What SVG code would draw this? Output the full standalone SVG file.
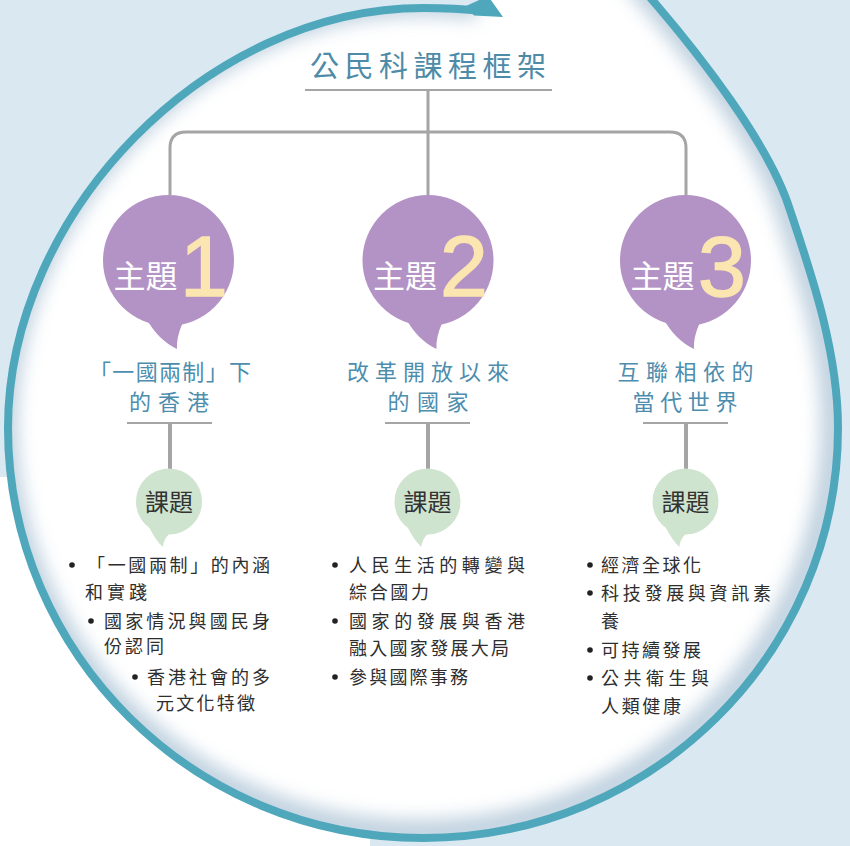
<svg xmlns="http://www.w3.org/2000/svg" width="850" height="846" viewBox="0 0 850 846">
<style>
.cjk{font-family:"Noto Sans CJK TC","Noto Sans CJK SC",sans-serif}
.title{font-size:29px;fill:#4e8ba8}
.theme{font-size:22px;fill:#4d8dae}
.zt{font-size:32px;fill:#ffffff}
.num{font-family:"Liberation Sans",Arial,sans-serif;font-size:86px;fill:#fbe5b0;stroke:#fbe5b0;stroke-width:1.5}
.kt{font-size:24px;fill:#333333}
.li{font-size:18px;fill:#2e2e2e}
.purple{fill:#b393c5}
.green{fill:#cfe4ce}
.conn{stroke:#a5a5a5;fill:none;stroke-linecap:butt}
.dot{fill:#222222}
</style>
<defs>
<clipPath id="inside">
<path d="M630,-26 L648,-5 C700,55 770,145 790,210 C810,270 838,350 838,428 C838,654 652,838 423,838 C194,838 8,654 8,428 C8,212 208,8 423,8 C445,8 465,9 482,11 L482,-30 L630,-30 Z"/>
</clipPath>
<filter id="blur" x="-15%" y="-15%" width="130%" height="130%"><feGaussianBlur stdDeviation="9"/></filter>
</defs>
<rect x="0" y="0" width="850" height="846" fill="#dae8f2"/>
<rect x="0" y="477" width="370" height="369" fill="#ffffff"/>
<g id="frame">
<path d="M630,-26 L648,-5 C700,55 770,145 790,210 C810,270 838,350 838,428 C838,654 652,838 423,838 C194,838 8,654 8,428 C8,212 208,8 423,8 C445,8 465,9 482,11 L482,-30 L630,-30 Z" fill="#ffffff"/>
<g clip-path="url(#inside)">
<path d="M630,-26 L648,-5 C700,55 770,145 790,210 C810,270 838,350 838,428 C838,654 652,838 423,838 C194,838 8,654 8,428 C8,212 208,8 423,8 C445,8 465,9 482,11" fill="none" stroke="#a9c1d4" stroke-width="26" opacity="0.75" filter="url(#blur)" transform="translate(-4,-5)"/>
</g>
<path d="M630,-26 L648,-5 C700,55 770,145 790,210 C810,270 838,350 838,428 C838,654 652,838 423,838 C194,838 8,654 8,428 C8,212 208,8 423,8 C445,8 465,9 482,11" fill="none" stroke="#4fa7bc" stroke-width="8" stroke-linejoin="round"/>
<path d="M466,6 L488,-4 L503,17 L474,15.5 Z" fill="#4fa7bc"/>
</g>
<g id="connectors">
<path class="conn" stroke-width="3" d="M428,90 V195"/>
<path class="conn" stroke-width="3" d="M170,195 V148 Q170,132 186,132 H670 Q686,132 686,148 V195"/>
<path class="conn" stroke-width="4" d="M170,423 V470 M428,423 V470 M686,423 V470"/>
</g>
<g id="title">
<text class="cjk title" x="428" y="77" text-anchor="middle" textLength="236" lengthAdjust="spacing">公民科課程框架</text>
<line class="conn" stroke-width="2" x1="305" y1="90" x2="552" y2="90"/>
</g>
<g id="theme1">
<circle class="purple" cx="168.5" cy="260.5" r="65.5"/>
<path class="purple" d="M146,318 Q158,340 177,349 Q176,338 183,322 Z"/>
<text class="cjk zt" x="113.5" y="288">主題</text>
<text class="num" x="180" y="296">1</text>
<text class="cjk theme" x="170" y="380" text-anchor="middle" textLength="162" lengthAdjust="spacing">「一國兩制」下</text>
<text class="cjk theme" x="169" y="410" text-anchor="middle" textLength="80" lengthAdjust="spacing">的香港</text>
<line class="conn" stroke-width="2" x1="127" y1="423" x2="212" y2="423"/>
</g>
<g id="theme2">
<circle class="purple" cx="428" cy="260.5" r="65.5"/>
<path class="purple" d="M405.5,318 Q417.5,340 436.5,349 Q435.5,338 442.5,322 Z"/>
<text class="cjk zt" x="373" y="288">主題</text>
<text class="num" x="440" y="296">2</text>
<text class="cjk theme" x="428" y="380" text-anchor="middle" textLength="162" lengthAdjust="spacing">改革開放以來</text>
<text class="cjk theme" x="428" y="410" text-anchor="middle" textLength="81" lengthAdjust="spacing">的國家</text>
<line class="conn" stroke-width="2" x1="385" y1="423" x2="470" y2="423"/>
</g>
<g id="theme3">
<circle class="purple" cx="685.5" cy="260.5" r="65.5"/>
<path class="purple" d="M663,318 Q675,340 694,349 Q693,338 700,322 Z"/>
<text class="cjk zt" x="630.5" y="288">主題</text>
<text class="num" x="698" y="296">3</text>
<text class="cjk theme" x="685.5" y="380" text-anchor="middle" textLength="136" lengthAdjust="spacing">互聯相依的</text>
<text class="cjk theme" x="685" y="410" text-anchor="middle" textLength="105" lengthAdjust="spacing">當代世界</text>
<line class="conn" stroke-width="2" x1="643" y1="423" x2="728" y2="423"/>
</g>
<g id="topic1">
<circle class="green" cx="169" cy="501.5" r="33"/>
<path class="green" d="M149,527 Q156,541 163,547 Q163,540 170,533 Z"/>
<text class="cjk kt" x="169" y="511" text-anchor="middle">課題</text>
<circle class="dot" cx="72" cy="565" r="2.8"/>
<text class="cjk li" x="87" y="572" textLength="183" lengthAdjust="spacing">「一國兩制」的內涵</text>
<text class="cjk li" x="85" y="599" textLength="62" lengthAdjust="spacing">和實踐</text>
<circle class="dot" cx="91" cy="621" r="2.8"/>
<text class="cjk li" x="104" y="628" textLength="166" lengthAdjust="spacing">國家情況與國民身</text>
<text class="cjk li" x="104" y="653" textLength="60" lengthAdjust="spacing">份認同</text>
<circle class="dot" cx="135" cy="677" r="2.8"/>
<text class="cjk li" x="147" y="684" textLength="123" lengthAdjust="spacing">香港社會的多</text>
<text class="cjk li" x="156" y="710" textLength="99" lengthAdjust="spacing">元文化特徵</text>
</g>
<g id="topic2">
<circle class="green" cx="427.5" cy="501.5" r="33"/>
<path class="green" d="M407.5,527 Q414.5,541 421.5,547 Q421.5,540 428.5,533 Z"/>
<text class="cjk kt" x="427.5" y="511" text-anchor="middle">課題</text>
<circle class="dot" cx="335" cy="565" r="2.8"/>
<text class="cjk li" x="349" y="572" textLength="176" lengthAdjust="spacing">人民生活的轉變與</text>
<text class="cjk li" x="349" y="599" textLength="80" lengthAdjust="spacing">綜合國力</text>
<circle class="dot" cx="335" cy="621" r="2.8"/>
<text class="cjk li" x="349" y="628" textLength="176" lengthAdjust="spacing">國家的發展與香港</text>
<text class="cjk li" x="349" y="655" textLength="160" lengthAdjust="spacing">融入國家發展大局</text>
<circle class="dot" cx="335" cy="677" r="2.8"/>
<text class="cjk li" x="349" y="684" textLength="119" lengthAdjust="spacing">參與國際事務</text>
</g>
<g id="topic3">
<circle class="green" cx="685.5" cy="501.5" r="33"/>
<path class="green" d="M665.5,527 Q672.5,541 679.5,547 Q679.5,540 686.5,533 Z"/>
<text class="cjk kt" x="685.5" y="511" text-anchor="middle">課題</text>
<circle class="dot" cx="590" cy="565" r="2.8"/>
<text class="cjk li" x="601" y="572" textLength="100" lengthAdjust="spacing">經濟全球化</text>
<circle class="dot" cx="590" cy="593" r="2.8"/>
<text class="cjk li" x="601" y="600" textLength="170" lengthAdjust="spacing">科技發展與資訊素</text>
<text class="cjk li" x="601" y="628">養</text>
<circle class="dot" cx="590" cy="650" r="2.8"/>
<text class="cjk li" x="601" y="657" textLength="100" lengthAdjust="spacing">可持續發展</text>
<circle class="dot" cx="590" cy="678" r="2.8"/>
<text class="cjk li" x="601" y="685" textLength="108" lengthAdjust="spacing">公共衛生與</text>
<text class="cjk li" x="601" y="713" textLength="80" lengthAdjust="spacing">人類健康</text>
</g>
</svg>
